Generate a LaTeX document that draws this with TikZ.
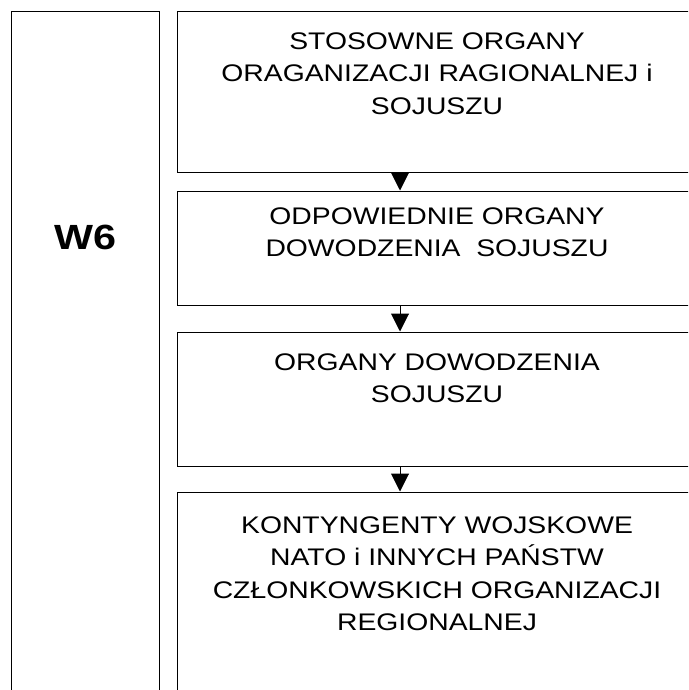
\documentclass[tikz,border=0pt]{standalone}
\usepackage{fontspec}
\setmainfont{Liberation Sans}[FakeStretch=1.18]
\usetikzlibrary{positioning,arrows.meta}
\tikzset{
  blok/.style={draw, line width=1pt, inner sep=0pt},
  opis/.style={align=center, inner sep=0pt, font=\fontsize{24}{32.5}\selectfont},
  strzalka/.style={line width=1pt, -{Triangle[width=18pt,length=18pt]}}}

\begin{document}
\begin{tikzpicture}[x=1pt, y=-1pt]
      \useasboundingbox (0,0) rectangle (688,690);
      \clip (0,0) rectangle (688,690);
      \node[blok, minimum width=148pt, minimum height=708pt] (w) at (85,366) {};
      \node[font=\bfseries\fontsize{35}{40}\selectfont] (w6) at (85,237) {W6};
      \node[blok, minimum width=520pt, minimum height=160pt] (b1) at (437,92)  {};
      \node[blok, minimum width=520pt, minimum height=114pt] (b2) at (437,248) {};
      \node[blok, minimum width=520pt, minimum height=134pt] (b3) at (437,399) {};
      \node[blok, minimum width=520pt, minimum height=228pt] (b4) at (437,606) {};
      \node[opis, below=21pt of b1.north] (t1)
        {STOSOWNE ORGANY\\ORAGANIZACJI RAGIONALNEJ i\\SOJUSZU};
      \node[opis, below=17pt of b2.north] (t2)
        {ODPOWIEDNIE ORGANY\\DOWODZENIA\ \ SOJUSZU};
      \node[opis, below=22pt of b3.north] (t3)
        {ORGANY DOWODZENIA\\SOJUSZU};
      \node[opis, below=25pt of b4.north] (t4)
        {KONTYNGENTY WOJSKOWE\\NATO i INNYCH PAŃSTW\\CZŁONKOWSKICH ORGANIZACJI\\REGIONALNEJ};
      \coordinate (os) at (400,0);
      \draw[strzalka] (b1.south -| os) -- (b2.north -| os);
      \draw[strzalka] (b2.south -| os) -- (b3.north -| os);
      \draw[strzalka] (b3.south -| os) -- (b4.north -| os);
\end{tikzpicture}
\end{document}
